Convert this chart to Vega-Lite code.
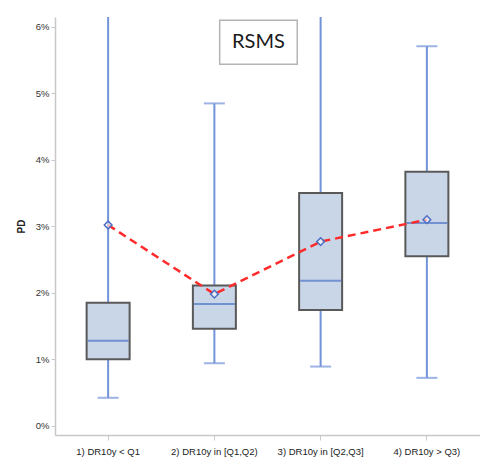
{
  "$schema": "https://vega.github.io/schema/vega-lite/v6.json",
  "width": 425,
  "height": 418,
  "autosize": "none",
  "padding": {"left": 55, "top": 17, "right": 0, "bottom": 31},
  "background": "white",
  "config": {
    "view": {"stroke": null},
    "font": "Liberation Sans"
  },
  "datasets": {
    "stats": [
      {"group": "1) DR10y < Q1", "lo": 0.0042, "q1": 0.0100, "med": 0.0128, "q3": 0.0185, "hi": 0.0800, "mean": 0.0302},
      {"group": "2) DR10y in [Q1,Q2)", "lo": 0.0094, "q1": 0.0146, "med": 0.0183, "q3": 0.0211, "hi": 0.0485, "mean": 0.0198},
      {"group": "3) DR10y in [Q2,Q3]", "lo": 0.0089, "q1": 0.0174, "med": 0.0218, "q3": 0.0350, "hi": 0.0800, "mean": 0.0277},
      {"group": "4) DR10y > Q3)", "lo": 0.0072, "q1": 0.0255, "med": 0.0305, "q3": 0.0382, "hi": 0.0571, "mean": 0.0310}
    ]
  },
  "layer": [
    {
      "data": {"name": "stats"},
      "encoding": {
        "x": {
          "field": "group", "type": "nominal", "sort": null,
          "scale": {"paddingInner": 0, "paddingOuter": 0},
          "axis": {
            "title": null, "labelAngle": 0, "labelFontSize": 9.5, "labelColor": "#222",
            "domainColor": "#c8c8c8", "domainWidth": 1.5, "tickColor": "#c8c8c8",
            "tickSize": 5, "labelPadding": 6
          }
        }
      },
      "layer": [
        {
          "mark": {"type": "rule", "color": "#7393d8", "strokeWidth": 2, "clip": true},
          "encoding": {
            "y": {
              "field": "lo", "type": "quantitative",
              "scale": {"domain": [-0.0014, 0.0615], "nice": false, "zero": false},
              "axis": {
                "title": "PD", "format": ".0%", "values": [0, 0.01, 0.02, 0.03, 0.04, 0.05, 0.06],
                "grid": false, "labelFontSize": 9.5, "labelColor": "#333",
                "domainColor": "#c8c8c8", "domainWidth": 1.5, "tickColor": "#c8c8c8", "tickSize": 4,
                "titleFontSize": 10, "titleFontWeight": "bold", "titleColor": "#222", "titlePadding": 9
              }
            },
            "y2": {"field": "hi"}
          }
        },
        {
          "mark": {"type": "tick", "color": "#7393d8", "thickness": 2, "size": 21, "clip": true},
          "encoding": {"y": {"field": "lo", "type": "quantitative"}}
        },
        {
          "mark": {"type": "tick", "color": "#7393d8", "thickness": 2, "size": 21, "clip": true},
          "encoding": {"y": {"field": "hi", "type": "quantitative"}}
        },
        {
          "mark": {"type": "bar", "fill": "#c9d6e8", "stroke": "#595959", "strokeWidth": 2, "size": 43},
          "encoding": {
            "y": {"field": "q1", "type": "quantitative"},
            "y2": {"field": "q3"}
          }
        },
        {
          "mark": {"type": "tick", "color": "#4d73c6", "thickness": 2, "size": 41},
          "encoding": {"y": {"field": "med", "type": "quantitative"}}
        },
        {
          "mark": {"type": "line", "color": "#ff2a2a", "strokeWidth": 2.5, "strokeDash": [8, 5]},
          "encoding": {"y": {"field": "mean", "type": "quantitative"}}
        },
        {
          "mark": {"type": "point", "shape": "diamond", "filled": false, "fill": "white", "fillOpacity": 0.6, "stroke": "#4d6fc4", "strokeWidth": 1.5, "size": 60, "opacity": 1},
          "encoding": {"y": {"field": "mean", "type": "quantitative"}}
        }
      ]
    },
    {
      "data": {"values": [{"label": "RSMS"}]},
      "encoding": {
        "x": {"datum": 1.55, "type": "quantitative", "scale": {"domain": [0, 4]}, "axis": null}
      },
      "layer": [
        {
          "mark": {"type": "rect", "fill": "white", "stroke": "#b4b4b4", "strokeWidth": 1.5},
          "encoding": {
            "x2": {"datum": 2.28},
            "y": {"datum": 0.0544, "type": "quantitative"},
            "y2": {"datum": 0.0610}
          }
        },
        {
          "mark": {"type": "text", "font": "Lato", "fontSize": 20, "color": "#1a1a1a", "align": "center", "baseline": "middle"},
          "encoding": {
            "x": {"datum": 1.915, "type": "quantitative", "scale": {"domain": [0, 4]}, "axis": null},
            "y": {"datum": 0.0578, "type": "quantitative"},
            "text": {"field": "label"}
          }
        }
      ]
    }
  ],
  "resolve": {"scale": {"x": "independent"}}
}
